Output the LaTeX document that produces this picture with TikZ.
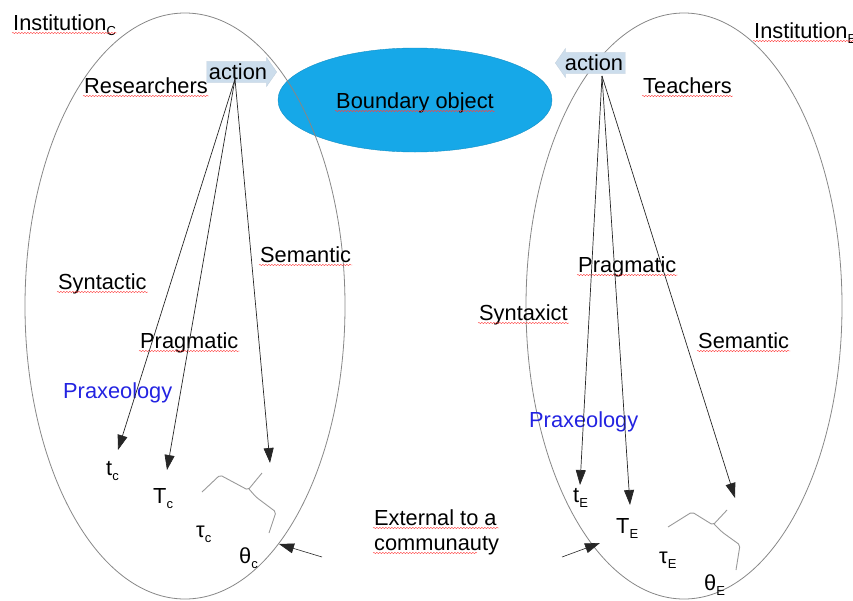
\documentclass[tikz,border=0pt]{standalone}
\usepackage{fontspec}
\setmainfont{Liberation Sans}
\usepackage{tikz}
\usetikzlibrary{arrows.meta, shapes.geometric, shapes.arrows, decorations.pathmorphing}
\definecolor{objblue}{RGB}{22,168,232}
\definecolor{actblue}{RGB}{204,221,236}
\definecolor{praxblue}{RGB}{35,35,225}
\definecolor{rimgray}{RGB}{135,135,135}
\newcommand{\sub}[1]{\raisebox{-5pt}{\fontsize{13}{13}\selectfont #1}}

\begin{document}
\begin{tikzpicture}[x=1pt, y=-1pt,
        every node/.style={font=\fontsize{21.8}{25}\selectfont, inner sep=1pt},
        squiggle/.style={draw=red!75, line width=0.4pt, decorate, decoration={snake, amplitude=0.7pt, segment length=3pt}},
        spell/.style={append after command={([yshift=-3pt]\tikzlastnode.base west) edge [squiggle] ([yshift=-3pt]\tikzlastnode.base east)}},
        inst/.style={draw=rimgray, line width=0.8pt},
        act/.style={single arrow, fill=actblue, draw=actblue!85!gray, line width=0.3pt, inner xsep=2pt, inner ysep=2.5pt, single arrow head extend=4pt, single arrow tip angle=110},
        prax/.style={text=praxblue},
        leg/.style={-{Triangle[length=15pt, width=10pt]}, line width=0.7pt, black!85},
        brace/.style={draw=gray!80, line width=0.9pt, rounded corners=2pt}]
        \useasboundingbox (0,0) rectangle (853,600);
        % Boundary object
        \node [ellipse, fill=objblue, draw=objblue!85!black, line width=0.4pt, minimum width=274pt, minimum height=104pt] (bobj) at (415,100) {};
        \node [spell, anchor=base] (bolab) at (415,108) {Boundary object};
        % Institutions
        \draw [inst] (185,306) ellipse [x radius=160, y radius=293];
        \draw [inst] (684,306) ellipse [x radius=158, y radius=293];
        \node [spell, anchor=base west] (instC) at (12,30) {Institution\sub{C}};
        \node [spell, anchor=base west] (instE) at (753,38) {Institution\sub{E}};
        \node [spell, anchor=base west] (resC) at (83,93) {Researchers};
        \node [spell, anchor=base west] (teaE) at (642,93) {Teachers};
        % Actions
        \node [act] (actC) at (238,72) {action};
        \node [act, shape border rotate=180] (actE) at (594,63) {action};
        \coordinate (srcC) at (235,79);
        \coordinate (srcE) at (602,76);
        % Left side
        \node [spell, anchor=base west] (synC) at (57,289) {Syntactic};
        \node [spell, anchor=base west] (praC) at (139,348) {Pragmatic};
        \node [spell, anchor=base west] (semC) at (259,262) {Semantic};
        \node [prax, anchor=base west] (pxC) at (62,398) {Praxeology};
        \node [anchor=base west] (tC) at (105,475) {t\sub{c}};
        \node [anchor=base west] (TC) at (152,503) {T\sub{c}};
        \node [anchor=base west] (tauC) at (195,537) {τ\sub{c}};
        \node [anchor=base west] (thC) at (238,563) {θ\sub{c}};
        \coordinate (hitC) at (118,450);
        \coordinate (hitTC) at (167,470);
        \coordinate (hitTh) at (270,463);
        \draw [leg] (srcC) -- (hitC);
        \draw [leg] (srcC) -- (hitTC);
        \draw [leg] (srcC) -- (hitTh);
        \draw [brace] (202,492) -- (220,475) -- (248,490) -- (262,473);
        \draw [brace] (249,489) -- (256,497) -- (276,512) -- (269,533);
        % Right side
        \node [spell, anchor=base west] (praE) at (577,272) {Pragmatic};
        \node [spell, anchor=base west] (synE) at (478,320) {Syntaxict};
        \node [spell, anchor=base west] (semE) at (697,348) {Semantic};
        \node [prax, anchor=base west] (pxE) at (528,427) {Praxeology};
        \node [anchor=base west] (tE) at (572,502) {t\sub{E}};
        \node [anchor=base west] (TE) at (615,533) {T\sub{E}};
        \node [anchor=base west] (tauE) at (658,563) {τ\sub{E}};
        \node [anchor=base west] (thE) at (703,590) {θ\sub{E}};
        \coordinate (hitE) at (580,485);
        \coordinate (hitTE) at (630,505);
        \coordinate (hitThE) at (735,498);
        \draw [leg] (srcE) -- (hitE);
        \draw [leg] (srcE) -- (hitTE);
        \draw [leg] (srcE) -- (hitThE);
        \draw [brace] (668,527) -- (692,512) -- (713,525) -- (727,510);
        \draw [brace] (714,524) -- (722,532) -- (740,545) -- (736,570);
        % External
        \node [anchor=base west, align=left] (ext) at (373,550) {External to a\\communauty};
        \draw [squiggle] (373,528) -- (499,528);
        \draw [squiggle] (373,553) -- (477,553);
        \coordinate (extC) at (322,557);
        \coordinate (extE) at (562,557);
        \draw [leg, line width=0.6pt] (extC) -- (279,544);
        \draw [leg, line width=0.6pt] (extE) -- (600,543);
\end{tikzpicture}
\end{document}
